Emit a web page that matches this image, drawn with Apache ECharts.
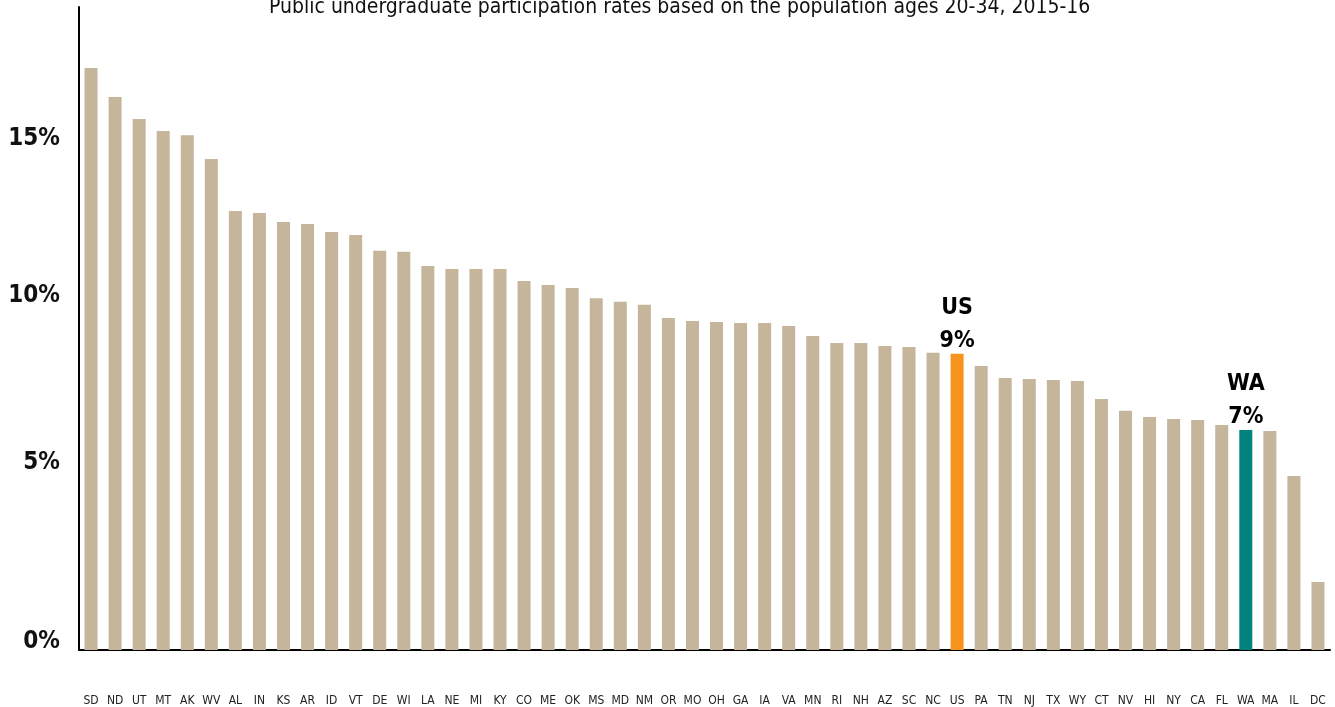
<!DOCTYPE html>
<html>
<head>
<meta charset="utf-8">
<script src="https://cdn.jsdelivr.net/npm/echarts@6/dist/echarts.min.js"></script>
<style>
  html, body { margin: 0; padding: 0; background: #fff; }
  #chart { width: 1335px; height: 707px; }
</style>
</head>
<body>
<div id="chart"></div>
<script>
const states = ["SD","ND","UT","MT","AK","WV","AL","IN","KS","AR","ID","VT","DE","WI","LA","NE","MI","KY","CO","ME","OK","MS","MD","NM","OR","MO","OH","GA","IA","VA","MN","RI","NH","AZ","SC","NC","US","PA","TN","NJ","TX","WY","CT","NV","HI","NY","CA","FL","WA","MA","IL","DC"];
const rates = [17.35,16.49,15.83,15.47,15.35,14.64,13.09,13.03,12.76,12.70,12.46,12.37,11.90,11.87,11.45,11.36,11.36,11.36,11.00,10.88,10.79,10.49,10.38,10.29,9.90,9.81,9.78,9.75,9.75,9.66,9.36,9.15,9.15,9.06,9.03,8.86,8.83,8.47,8.11,8.08,8.05,8.02,7.48,7.13,6.95,6.89,6.86,6.71,6.56,6.53,5.19,2.03];
const highlights = { US: "US\n9%", WA: "WA\n7%" };
const yTicks = [0, 5, 10, 15];

const TAN = "#c4b59b";
const colorFor = { US: "#f7941e", WA: "#00827e" };
const narrow = '"Liberation Sans Narrow", "DejaVu Sans Condensed", sans-serif';

const chart = echarts.init(document.getElementById("chart"));

const barData = states.map((s, i) => {
  const item = { value: rates[i], itemStyle: { color: colorFor[s] || TAN } };
  if (highlights[s]) {
    item.label = {
      show: true,
      position: "top",
      distance: -4,
      formatter: highlights[s],
      fontFamily: narrow,
      fontWeight: "bold",
      fontSize: 23,
      lineHeight: 33,
      color: "#000",
    };
  }
  return item;
});

// labels in the original sit a bit above their ticks, unevenly
const richLabels = {
  t0: { padding: [0, 0, 16, 0] },
  t5: { padding: [0, 0, 40, 0] },
  t10: { padding: [0, 0, 37, 0] },
  t15: { padding: [0, 0, 16, 0] },
};
Object.values(richLabels).forEach((r) => {
  r.fontFamily = narrow;
  r.fontWeight = "bold";
  r.fontSize = 24;
  r.color = "#111";
});

const option = {
  animation: false,
  title: {
    text: "Public undergraduate participation rates based on the population ages 20-34, 2015-16",
    left: 264,
    top: -8,
    textStyle: {
      fontFamily: narrow,
      fontWeight: "normal",
      fontSize: 21,
      color: "#111",
    },
  },
  grid: { left: 79, right: 5, top: 7, bottom: 57, outerBoundsMode: "none", containLabel: false },
  xAxis: {
    type: "category",
    data: states,
    axisLine: { lineStyle: { color: "#000", width: 2 } },
    axisTick: { show: false },
    axisLabel: {
      interval: 0,
      margin: 45,
      fontFamily: narrow,
      fontSize: 12,
      color: "#222",
    },
  },
  yAxis: {
    type: "value",
    min: 0,
    max: 19.17,
    interval: 5,
    splitLine: { show: false },
    axisTick: { show: false },
    axisLine: { show: true, lineStyle: { color: "#000", width: 2 } },
    axisLabel: {
      showMaxLabel: false,
      margin: 19,
      verticalAlign: "middle",
      formatter: (v) => (yTicks.includes(v) ? "{t" + v + "|" + v + "%}" : ""),
      rich: richLabels,
    },
  },
  series: [
    {
      type: "bar",
      barWidth: 13,
      data: barData,
    },
  ],
};

chart.setOption(option);
</script>
</body>
</html>
